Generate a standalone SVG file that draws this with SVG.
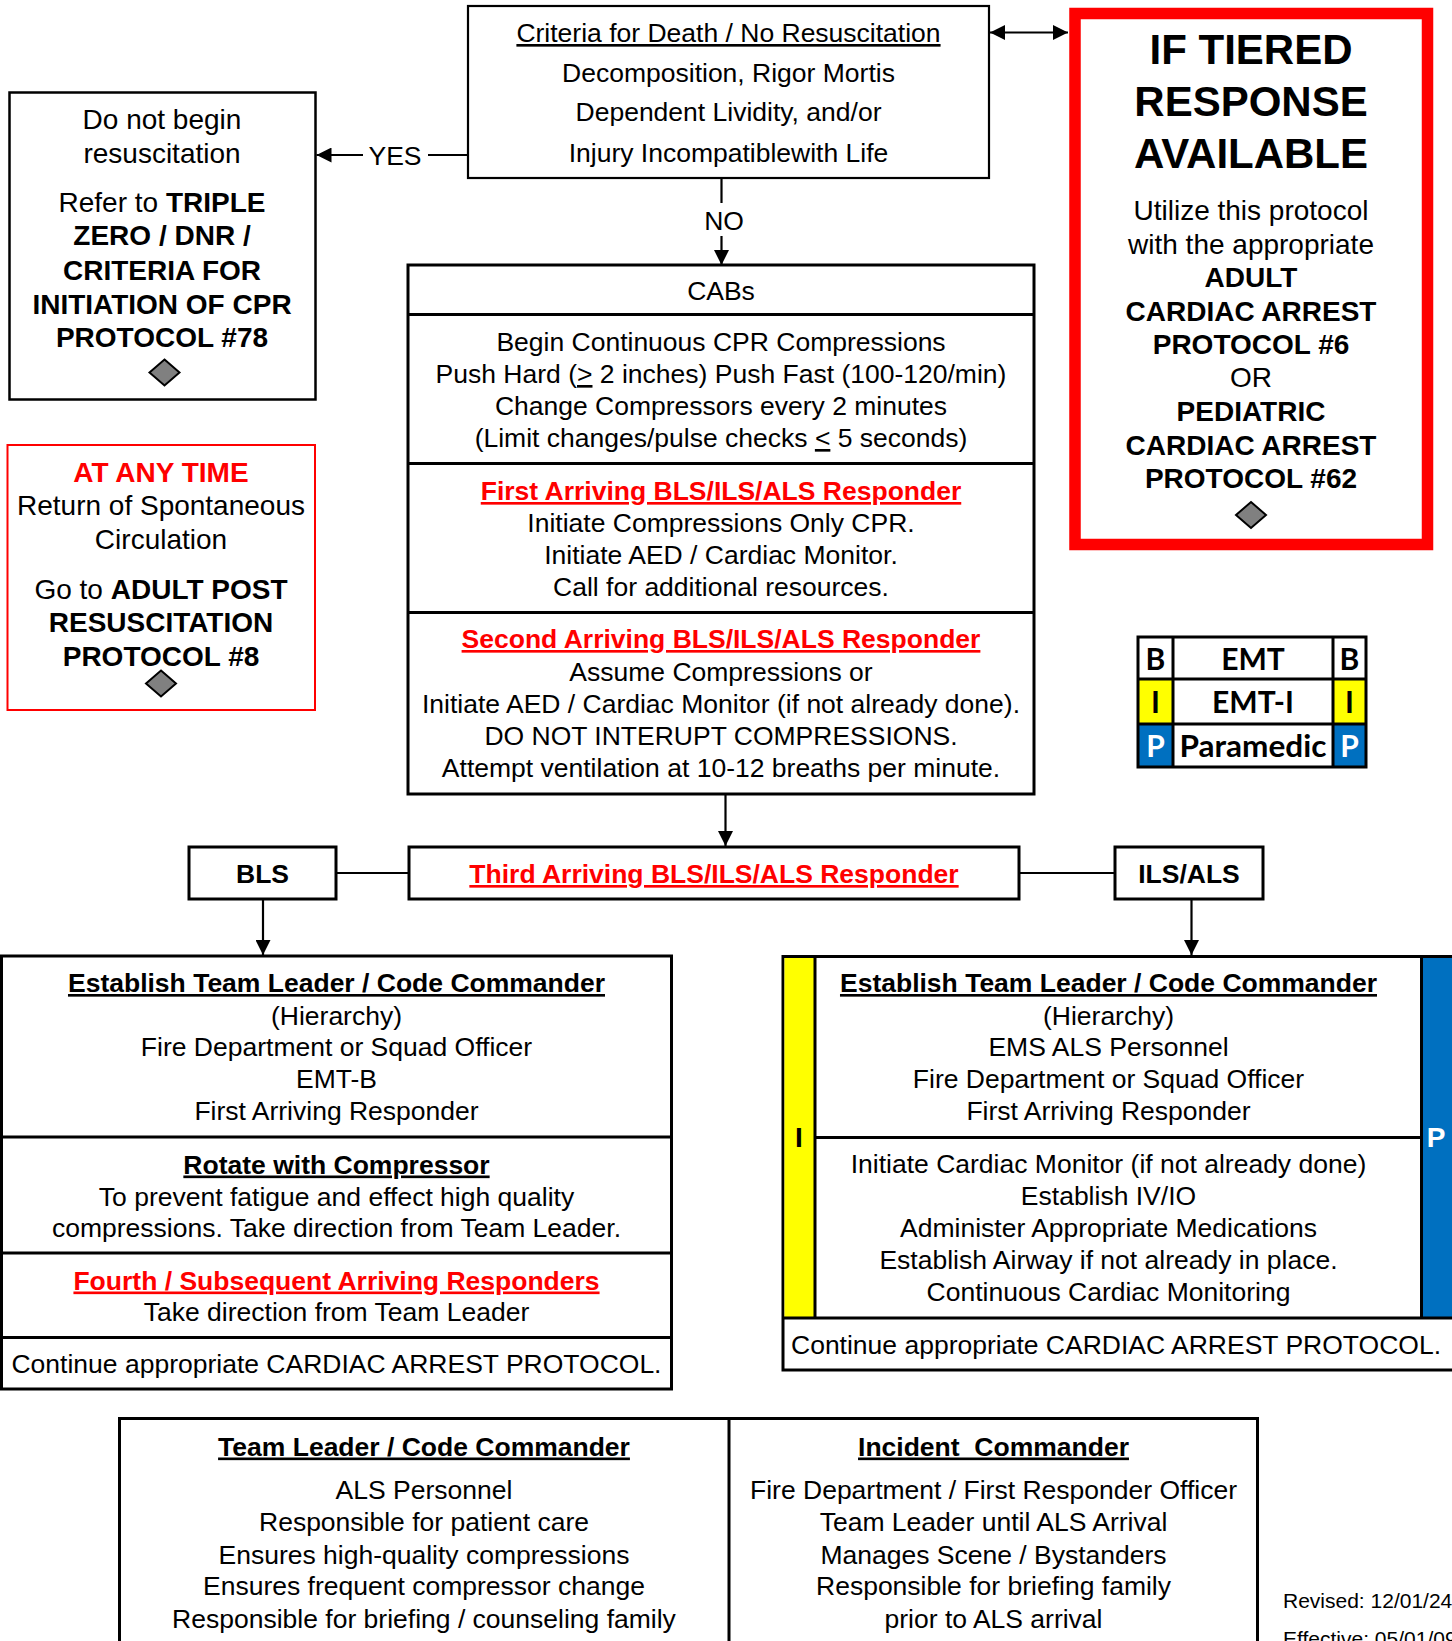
<svg xmlns="http://www.w3.org/2000/svg" width="1452" height="1641" viewBox="0 0 1452 1641">
<defs>
<style>
text{font-family:"Liberation Sans",Arial,sans-serif;font-size:26.5px;fill:#000;text-anchor:middle}
.f28{font-size:28px}
.f42{font-size:42px}
.b{font-weight:bold}
.u{text-decoration:underline}
.red{fill:#FF0000}
.wht{fill:#fff}
.st{text-anchor:start}
.box{fill:#fff;stroke:#000;stroke-width:3}
.thin{fill:#fff;stroke:#000;stroke-width:2.5}
.div{stroke:#000;stroke-width:3;fill:none}
.conn{stroke:#000;stroke-width:2.2;fill:none}
.dia{fill:#808080;stroke:#000;stroke-width:2}
.leg{font-family:Lato,"Open Sans",sans-serif;font-weight:bold;font-size:30px}
</style>
<marker id="ah" markerUnits="userSpaceOnUse" markerWidth="15" markerHeight="15" viewBox="0 0 15 15" refX="15" refY="7.5" orient="auto-start-reverse">
<path d="M0,0 L15,7.5 L0,15 Z" fill="#000"/>
</marker>
</defs>
<rect width="1452" height="1641" fill="#fff"/>

<g id="connectors">
<path class="conn" d="M468,155 H428"/>
<path class="conn" d="M363,155 H316.5" marker-end="url(#ah)"/>
<text x="395" y="165">YES</text>
<path class="conn" d="M990,32.5 H1068" marker-start="url(#ah)" marker-end="url(#ah)"/>
<path class="conn" d="M721.5,179 V203"/>
<text x="724" y="230">NO</text>
<path class="conn" d="M721.5,236 V265" marker-end="url(#ah)"/>
<path class="conn" d="M725.5,795 V846" marker-end="url(#ah)"/>
<path class="conn" d="M336,873 H409"/>
<path class="conn" d="M1019,873 H1115"/>
<path class="conn" d="M263,899 V955" marker-end="url(#ah)"/>
<path class="conn" d="M1191.5,899 V955" marker-end="url(#ah)"/>
</g>

<g id="node-criteria">
<rect x="468" y="6" width="521" height="172" fill="#fff" stroke="#000" stroke-width="2.2"/>
<text x="728.5" y="42" class="u">Criteria for Death / No Resuscitation</text>
<text x="728.5" y="81.5">Decomposition, Rigor Mortis</text>
<text x="728.5" y="121">Dependent Lividity, and/or</text>
<text x="728.5" y="161.5">Injury Incompatiblewith Life</text>
</g>

<g id="node-do-not-begin">
<rect x="9.5" y="92.5" width="306" height="307" class="thin"/>
<text x="162" y="129" class="f28">Do not begin</text>
<text x="162" y="162.5" class="f28">resuscitation</text>
<text x="162" y="211.5" class="f28">Refer to <tspan class="b">TRIPLE</tspan></text>
<text x="162" y="245" class="f28 b">ZERO / DNR /</text>
<text x="162" y="279.5" class="f28 b">CRITERIA FOR</text>
<text x="162" y="313.5" class="f28 b">INITIATION OF CPR</text>
<text x="162" y="347" class="f28 b">PROTOCOL #78</text>
<path class="dia" d="M164.5,359.5 L179.5,372.5 L164.5,385.5 L149.5,372.5 Z"/>
</g>

<g id="node-tiered">
<rect x="1075" y="13.5" width="352.5" height="531" fill="#fff" stroke="#FF0000" stroke-width="11.5"/>
<text x="1251" y="64" class="f42 b">IF TIERED</text>
<text x="1251" y="115.5" class="f42 b">RESPONSE</text>
<text x="1251" y="167.5" class="f42 b">AVAILABLE</text>
<text x="1251" y="219.5" class="f28">Utilize this protocol</text>
<text x="1251" y="253.5" class="f28">with the appropriate</text>
<text x="1251" y="287" class="f28 b">ADULT</text>
<text x="1251" y="320.5" class="f28 b">CARDIAC ARREST</text>
<text x="1251" y="354" class="f28 b">PROTOCOL #6</text>
<text x="1251" y="387" class="f28">OR</text>
<text x="1251" y="421" class="f28 b">PEDIATRIC</text>
<text x="1251" y="455" class="f28 b">CARDIAC ARREST</text>
<text x="1251" y="488" class="f28 b">PROTOCOL #62</text>
<path class="dia" d="M1251,502 L1266,515 L1251,528 L1236,515 Z"/>
</g>

<g id="node-any-time">
<rect x="7.5" y="445" width="307.5" height="265" fill="#fff" stroke="#FF0000" stroke-width="2"/>
<text x="161" y="481.5" class="f28 b red">AT ANY TIME</text>
<text x="161" y="515" class="f28">Return of Spontaneous</text>
<text x="161" y="548.5" class="f28">Circulation</text>
<text x="161" y="598.5" class="f28">Go to <tspan class="b">ADULT POST</tspan></text>
<text x="161" y="631.5" class="f28 b">RESUSCITATION</text>
<text x="161" y="665.5" class="f28 b">PROTOCOL #8</text>
<path class="dia" d="M161,670.5 L176,683.5 L161,696.5 L146,683.5 Z"/>
</g>

<g id="node-cabs">
<rect x="408" y="265" width="626" height="529" class="box"/>
<path class="div" d="M408,314.5 H1034 M408,463.5 H1034 M408,612.5 H1034"/>
<text x="721" y="300">CABs</text>
<text x="721" y="351">Begin Continuous CPR Compressions</text>
<text x="721" y="383">Push Hard (<tspan class="u">&gt;</tspan> 2 inches) Push Fast (100-120/min)</text>
<text x="721" y="415">Change Compressors every 2 minutes</text>
<text x="721" y="447">(Limit changes/pulse checks <tspan class="u">&lt;</tspan> 5 seconds)</text>
<text x="721" y="500" class="b u red">First Arriving BLS/ILS/ALS Responder</text>
<text x="721" y="531.5">Initiate Compressions Only CPR.</text>
<text x="721" y="563.5">Initiate AED / Cardiac Monitor.</text>
<text x="721" y="595.5">Call for additional resources.</text>
<text x="721" y="648" class="b u red">Second Arriving BLS/ILS/ALS Responder</text>
<text x="721" y="680.5">Assume Compressions or</text>
<text x="721" y="712.5">Initiate AED / Cardiac Monitor (if not already done).</text>
<text x="721" y="745">DO NOT INTERUPT COMPRESSIONS.</text>
<text x="721" y="776.5">Attempt ventilation at 10-12 breaths per minute.</text>
</g>

<g id="node-legend">
<rect x="1138" y="637" width="35" height="42" fill="#fff"/>
<rect x="1333" y="637" width="33" height="42" fill="#fff"/>
<rect x="1138" y="679" width="35" height="45" fill="#FFFF00"/>
<rect x="1333" y="679" width="33" height="45" fill="#FFFF00"/>
<rect x="1138" y="724" width="35" height="43" fill="#0070C0"/>
<rect x="1333" y="724" width="33" height="43" fill="#0070C0"/>
<rect x="1173" y="637" width="160" height="130" fill="#fff"/>
<path class="div" d="M1138,637 H1366 V767 H1138 Z M1173,637 V767 M1333,637 V767 M1138,679 H1366 M1138,724 H1366"/>
<text x="1155.5" y="669.5" class="leg">B</text>
<text x="1253" y="669.5" class="leg">EMT</text>
<text x="1349.5" y="669.5" class="leg">B</text>
<text x="1155.5" y="713" class="leg">I</text>
<text x="1253" y="713" class="leg">EMT-I</text>
<text x="1349.5" y="713" class="leg">I</text>
<text x="1155.5" y="757" class="leg wht">P</text>
<text x="1253" y="757" class="leg" textLength="147" lengthAdjust="spacingAndGlyphs">Paramedic</text>
<text x="1349.5" y="757" class="leg wht">P</text>
</g>

<g id="node-third">
<rect x="409" y="847" width="610" height="52" class="box"/>
<text x="714" y="883" class="b u red">Third Arriving BLS/ILS/ALS Responder</text>
</g>

<g id="node-bls">
<rect x="189" y="847" width="147" height="52" class="box"/>
<text x="262.5" y="883" class="b">BLS</text>
</g>

<g id="node-ils">
<rect x="1115" y="847" width="148" height="52" class="box"/>
<text x="1189" y="883" class="b">ILS/ALS</text>
</g>

<g id="node-bls-team">
<rect x="1.5" y="956" width="670" height="433" class="box"/>
<path class="div" d="M1.5,1137 H671.5 M1.5,1253 H671.5 M1.5,1337.5 H671.5"/>
<text x="336.5" y="992" class="b u">Establish Team Leader / Code Commander</text>
<text x="336.5" y="1024.5">(Hierarchy)</text>
<text x="336.5" y="1056">Fire Department or Squad Officer</text>
<text x="336.5" y="1088">EMT-B</text>
<text x="336.5" y="1120">First Arriving Responder</text>
<text x="336.5" y="1173.5" class="b u">Rotate with Compressor</text>
<text x="336.5" y="1205.5">To prevent fatigue and effect high quality</text>
<text x="336.5" y="1237">compressions. Take direction from Team Leader.</text>
<text x="336.5" y="1289.5" class="b u red">Fourth / Subsequent Arriving Responders</text>
<text x="336.5" y="1321">Take direction from Team Leader</text>
<text x="336.5" y="1372.5">Continue appropriate CARDIAC ARREST PROTOCOL.</text>
</g>

<g id="node-ils-team">
<rect x="783" y="956.5" width="700" height="413.5" class="box"/>
<rect x="784.5" y="958" width="30.5" height="360" fill="#FFFF00"/>
<rect x="1421.5" y="958" width="40" height="360" fill="#0070C0"/>
<path class="div" d="M815,956.5 V1318 M1421.5,956.5 V1318 M815,1137.5 H1421.5 M783,1318 H1470"/>
<text x="799" y="1146.5" class="f28 b">I</text>
<text x="1436" y="1146.5" class="f28 b wht">P</text>
<text x="1108.5" y="992" class="b u">Establish Team Leader / Code Commander</text>
<text x="1108.5" y="1024.5">(Hierarchy)</text>
<text x="1108.5" y="1056">EMS ALS Personnel</text>
<text x="1108.5" y="1088">Fire Department or Squad Officer</text>
<text x="1108.5" y="1120">First Arriving Responder</text>
<text x="1108.5" y="1173">Initiate Cardiac Monitor (if not already done)</text>
<text x="1108.5" y="1205">Establish IV/IO</text>
<text x="1108.5" y="1237">Administer Appropriate Medications</text>
<text x="1108.5" y="1269">Establish Airway if not already in place.</text>
<text x="1108.5" y="1301">Continuous Cardiac Monitoring</text>
<text x="791" y="1354" class="st">Continue appropriate CARDIAC ARREST PROTOCOL.</text>
</g>

<g id="node-roles">
<rect x="119.5" y="1418.5" width="1138" height="260" class="box"/>
<path class="div" d="M729,1418.5 V1680"/>
<text x="424" y="1455.5" class="b u">Team Leader / Code Commander</text>
<text x="424" y="1499">ALS Personnel</text>
<text x="424" y="1531">Responsible for patient care</text>
<text x="424" y="1563.5">Ensures high-quality compressions</text>
<text x="424" y="1595">Ensures frequent compressor change</text>
<text x="424" y="1627.5">Responsible for briefing / counseling family</text>
<text x="993.5" y="1455.5" class="b u">Incident&#160; Commander</text>
<text x="993.5" y="1499">Fire Department / First Responder Officer</text>
<text x="993.5" y="1531">Team Leader until ALS Arrival</text>
<text x="993.5" y="1563.5">Manages Scene / Bystanders</text>
<text x="993.5" y="1595">Responsible for briefing family</text>
<text x="993.5" y="1627.5">prior to ALS arrival</text>
</g>

<g id="footer">
<text x="1283" y="1607.5" class="st" style="font-size:21px">Revised: 12/01/24</text>
<text x="1283" y="1646" class="st" style="font-size:21px">Effective: 05/01/09</text>
</g>
</svg>
